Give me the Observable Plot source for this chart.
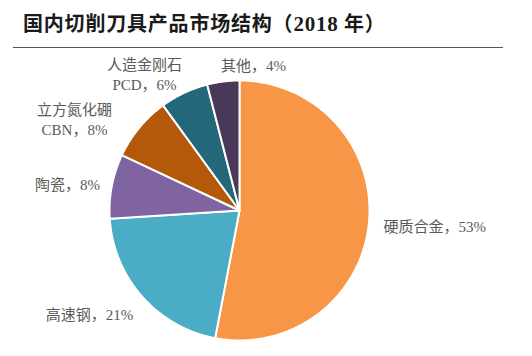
<!DOCTYPE html>
<html><head><meta charset="utf-8">
<script src="https://cdn.jsdelivr.net/npm/d3@7"></script>
<script src="https://cdn.jsdelivr.net/npm/@observablehq/plot@0.6"></script>
<style>
body{margin:0;background:#fff;width:532px;height:356px;overflow:hidden}
#title{position:relative;height:48px;}
#title .t{position:absolute;left:23px;top:11px;line-height:24px;font-family:"Noto Sans CJK SC";font-weight:bold;font-size:20px;letter-spacing:0.8px;color:#1a1a1a;white-space:nowrap}
#title .n{font-family:"Liberation Serif","Noto Sans CJK SC";font-size:21px}
#rule{position:absolute;left:13px;top:47px;width:490px;height:0;border-top:1.5px solid #555}
#chart svg{display:block}
</style></head><body>
<div id="title"><div class="t">国内切削刀具产品市场结构（<span class="n">2018</span> 年）</div><div id="rule"></div></div>
<div id="chart"></div>
<script>
// data
const categories = ["硬质合金", "高速钢", "陶瓷", "立方氮化硼", "人造金刚石", "其他"];
const abbreviations = ["", "", "", "CBN", "PCD", ""];
const shares = [53, 21, 8, 8, 6, 4];

// styles / layout
const colors = ["#F79646", "#4BACC6", "#8064A2", "#B4580A", "#23687A", "#4A3858"];
const W = 532, H = 308, R = 130, CX = 239, CY = 162; // pie centre in svg px
const labelPos = [ // svg px, anchor
  [383, 177, "start"], [89, 265, "middle"], [67, 135, "middle"],
  [74, 70, "middle"], [144, 25, "middle"], [253, 16, "middle"]
];

const total = d3.sum(shares);
let cum = 0;
const marks = [];
shares.forEach((s, i) => {
  const a0 = cum / total * 2 * Math.PI;
  cum += s;
  const a1 = cum / total * 2 * Math.PI;
  const n = Math.max(2, Math.ceil((a1 - a0) / (Math.PI / 360)) + 1);
  const pts = [{x: 0, y: 0}];
  for (let k = 0; k < n; k++) {
    const a = a0 + (a1 - a0) * k / (n - 1);
    pts.push({x: Math.sin(a), y: Math.cos(a)});
  }
  pts.push({x: 0, y: 0});
  marks.push(Plot.line(pts, {x: "x", y: "y", fill: colors[i], stroke: "white", strokeWidth: 2, strokeLinejoin: "round", curve: "linear"}));
});

const labels = categories.map((c, i) => ({
  text: abbreviations[i] ? `${c}\n${abbreviations[i]}，${shares[i]}%` : `${c}，${shares[i]}%`,
  x: (labelPos[i][0] - CX) / R,
  y: (CY - labelPos[i][1]) / R,
  anchor: labelPos[i][2]
}));
for (const anchor of ["start", "middle"]) {
  marks.push(Plot.text(labels.filter(d => d.anchor === anchor), {
    x: "x", y: "y", text: "text", textAnchor: anchor,
    fontSize: 15, lineHeight: 1.35, fill: "#5a5a5a",
    fontFamily: "'Liberation Serif','Noto Sans CJK SC'"
  }));
}

const chart = Plot.plot({
  width: W, height: H, margin: 0,
  x: {domain: [-CX / R, (W - CX) / R], axis: null},
  y: {domain: [-(H - CY) / R, CY / R], axis: null},
  marks
});
document.getElementById("chart").appendChild(chart);
</script>
</body></html>
